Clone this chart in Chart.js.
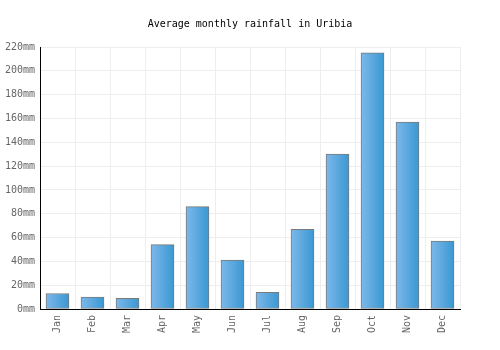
<!DOCTYPE html>
<html>
<head>
<meta charset="utf-8">
<script src="https://cdn.jsdelivr.net/npm/chart.js@4.4.0/dist/chart.umd.min.js"></script>
<style>
  html, body { margin: 0; padding: 0; background: #fff; }
  #wrap { width: 500px; height: 350px; }
</style>
</head>
<body>
<div id="wrap"><canvas id="rain"></canvas></div>
<script>
const months = ['Jan', 'Feb', 'Mar', 'Apr', 'May', 'Jun', 'Jul', 'Aug', 'Sep', 'Oct', 'Nov', 'Dec'];
const rainfall = [13, 10, 9, 54, 86, 41, 14, 67, 130, 215, 157, 57];
const yMax = 220;
const yStep = 20;
const titleText = 'Average monthly rainfall in Uribia';

const FONT = '"DejaVu Sans Mono", monospace';
const BAR_W = 23;

// degradê horizontal em cada barra, como no original
function barGradient(c) {
  const chart = c.chart;
  const x = chart.scales.x;
  if (!x || c.dataIndex === undefined) return '#4aa3dd';
  const mid = x.getPixelForValue(c.dataIndex);
  if (!isFinite(mid)) return '#4aa3dd';
  const g = chart.ctx.createLinearGradient(mid - BAR_W / 2, 0, mid + BAR_W / 2, 0);
  g.addColorStop(0, '#7cb8ea');
  g.addColorStop(1, '#3a98d2');
  return g;
}

// título centrado na largura toda do canvas
const centeredTitle = {
  id: 'centeredTitle',
  afterDraw(chart) {
    const ctx = chart.ctx;
    ctx.save();
    ctx.font = '10px ' + FONT;
    ctx.fillStyle = '#000';
    ctx.textAlign = 'center';
    ctx.textBaseline = 'middle';
    ctx.fillText(titleText, chart.width / 2, 24);
    ctx.restore();
  }
};

new Chart(document.getElementById('rain'), {
  type: 'bar',
  data: {
    labels: months,
    datasets: [{
      data: rainfall,
      backgroundColor: barGradient,
      borderColor: '#7a7a7a',
      borderWidth: 1,
      borderSkipped: false,
      barThickness: BAR_W
    }]
  },
  options: {
    responsive: true,
    maintainAspectRatio: false,
    animation: false,
    layout: { padding: { left: 0, right: 40, top: 47, bottom: 0 } },
    plugins: {
      legend: { display: false },
      tooltip: { enabled: false },
      title: { display: false }
    },
    scales: {
      x: {
        grid: { color: '#eeeeee', drawTicks: false, offset: true },
        border: { color: '#000', width: 1 },
        ticks: { color: '#666', font: { family: FONT, size: 10 }, minRotation: 90, maxRotation: 90, padding: 6 },
        afterFit: s => { s.height = 41; }
      },
      y: {
        min: 0,
        max: yMax,
        grid: { color: '#eeeeee', drawTicks: false },
        border: { color: '#000', width: 1 },
        ticks: { stepSize: yStep, color: '#666', font: { family: FONT, size: 10 }, padding: 5, callback: v => v + 'mm' },
        afterFit: s => { s.width = 40; }
      }
    }
  },
  plugins: [centeredTitle]
});
</script>
</body>
</html>
